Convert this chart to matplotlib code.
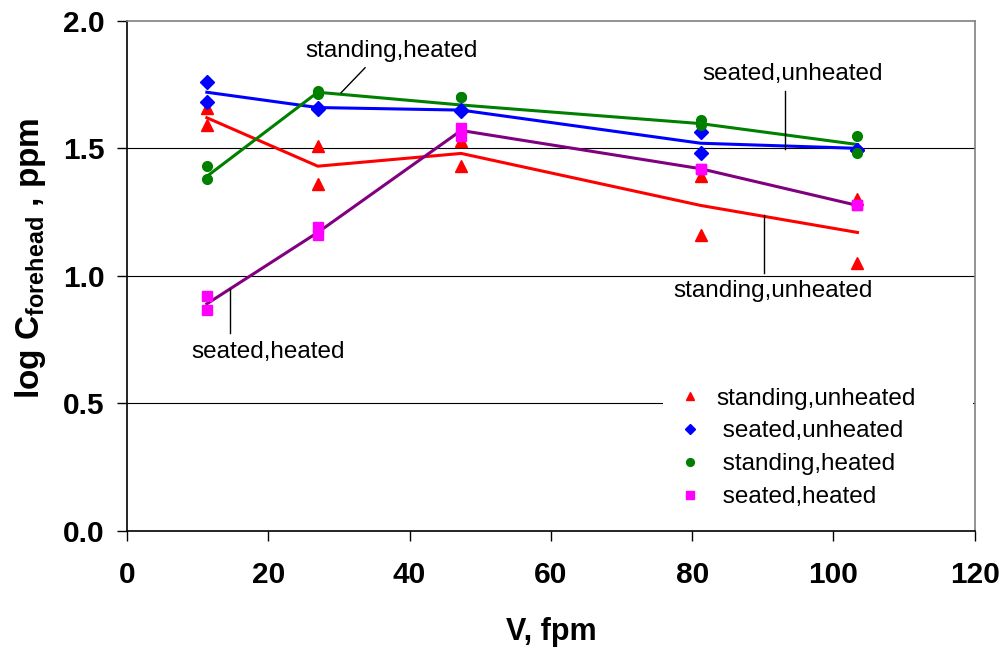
import matplotlib
matplotlib.use("Agg")
import matplotlib.pyplot as plt

plt.rcParams["font.family"] = ["Liberation Sans", "DejaVu Sans"]

# air velocity positions (fpm)
v_pts = [11.3, 11.3, 27.0, 27.0, 47.3, 47.3, 81.2, 81.2, 103.4, 103.4]
v_fit = [11.3, 27.0, 47.3, 81.2, 103.4]

# measured log C_forehead, ppm
su_pts = [1.66, 1.59, 1.51, 1.36, 1.53, 1.43, 1.39, 1.16, 1.30, 1.05]
seu_pts = [1.76, 1.68, 1.66, 1.655, 1.65, 1.645, 1.566, 1.48, 1.495, 1.495]
sh_pts = [1.43, 1.38, 1.725, 1.715, 1.70, 1.70, 1.61, 1.59, 1.55, 1.48]
seh_pts = [0.92, 0.865, 1.19, 1.16, 1.58, 1.55, 1.42, 1.42, 1.276, 1.276]

# fitted trend lines
su_fit = [1.62, 1.43, 1.48, 1.276, 1.17]
seu_fit = [1.72, 1.66, 1.65, 1.52, 1.50]
sh_fit = [1.39, 1.72, 1.67, 1.597, 1.515]
seh_fit = [0.89, 1.17, 1.57, 1.42, 1.276]

labels = ["standing,unheated", " seated,unheated", " standing,heated", " seated,heated"]

fig = plt.figure(figsize=(10.08, 6.52), dpi=100)
ax = fig.add_axes([0.126, 0.186, 0.841, 0.782])

# grid lines
for yv in [0.5, 1.0, 1.5]:
    ax.axhline(yv, color="black", lw=0.8, zorder=0)

ax.plot(v_fit, su_fit, color="#ff0000", lw=2.2, zorder=2)
ax.plot(v_fit, seu_fit, color="#0000ff", lw=2.2, zorder=2)
ax.plot(v_fit, sh_fit, color="#008000", lw=2.2, zorder=2)
ax.plot(v_fit, seh_fit, color="#800080", lw=2.2, zorder=2)

h1, = ax.plot(v_pts, su_pts, "^", color="#ff0000", ms=8, ls="none", zorder=3)
h2, = ax.plot(v_pts, seu_pts, "D", color="#0000ff", ms=7, ls="none", zorder=3)
h3, = ax.plot(v_pts, sh_pts, "o", color="#008000", ms=7, ls="none", zorder=3)
h4, = ax.plot(v_pts, seh_pts, "s", color="#ff00ff", ms=7, ls="none", zorder=3)

ax.set_xlim(0, 120)
ax.set_ylim(0, 2.0)
ax.set_xticks(range(0, 121, 20))
ax.set_yticks([0.0, 0.5, 1.0, 1.5, 2.0])
ax.set_yticklabels(["0.0", "0.5", "1.0", "1.5", "2.0"])
ax.tick_params(direction="out", length=7, width=1, labelsize=21.5)
ax.tick_params(axis="x", pad=15)
ax.tick_params(axis="y", pad=9)
for lab in ax.get_xticklabels() + ax.get_yticklabels():
    lab.set_fontweight("bold")

ax.spines["left"].set_color("black")
ax.spines["bottom"].set_color("black")
ax.spines["top"].set_color("#808080")
ax.spines["right"].set_color("#808080")
for s in ax.spines.values():
    s.set_linewidth(1.2)

ax.set_xlabel("V, fpm", fontsize=22, fontweight="bold", labelpad=20)
ax.set_ylabel(r"log C$_{\mathregular{forehead}}$ , ppm", fontsize=24,
              fontweight="bold")
ax.yaxis.set_label_coords(-0.093, 0.535)

# curve labels with leader lines
ax.text(37.5, 1.883, "standing,heated", fontsize=17.5, ha="center", va="center")
ax.plot([30.3, 33.7], [1.718, 1.816], color="black", lw=1)
ax.text(94.2, 1.79, "seated,unheated", fontsize=17.5, ha="center", va="center")
ax.plot([93.1, 93.1], [1.726, 1.499], color="black", lw=1)
ax.text(91.4, 0.939, "standing,unheated", fontsize=17.5, ha="center", va="center")
ax.plot([90.1, 90.1], [1.237, 1.010], color="black", lw=1)
ax.text(19.95, 0.70, "seated,heated", fontsize=17.5, ha="center", va="center")
ax.plot([14.6, 14.6], [0.947, 0.775], color="black", lw=1)

leg = ax.legend([h1, h2, h3, h4], labels, loc="upper left",
                bbox_to_anchor=(0.632, 0.0, 0.366, 0.30), mode="expand",
                frameon=True, fancybox=False, fontsize=17.5,
                handlelength=1.4, handletextpad=0.4, labelspacing=0.45,
                markerscale=0.8, borderaxespad=0.0, borderpad=0.4)
leg.get_frame().set_facecolor("white")
leg.get_frame().set_edgecolor("none")
leg.get_frame().set_alpha(1.0)
leg.set_zorder(2.4)

fig.savefig("out.png", dpi=100)
